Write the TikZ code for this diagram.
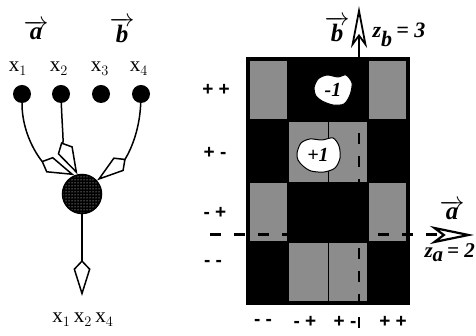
\documentclass[tikz,border=0pt]{standalone}
\usepackage{fontspec}
\setmainfont{Liberation Serif}
\newfontfamily\signfont{Liberation Sans}
\usetikzlibrary{arrows.meta,patterns}
\newcommand{\bi}[1]{\textbf{\textit{#1}}}

\begin{document}
\begin{tikzpicture}[x=1pt, y=1pt,
        site/.style={circle, fill=black, minimum size=18pt, inner sep=0pt},
        lbl/.style={font=\fontsize{21}{23}\selectfont},
        vec/.style={font=\fontsize{25}{27}\selectfont},
        sign/.style={font=\fontsize{19}{21}\signfont\bfseries},
        big/.style={font=\fontsize{20}{22}\selectfont},
        kite/.style={line width=1.5pt, -{Kite[length=36pt, width=17pt, inset=9pt, fill=white]}},
        cell/.style={fill=black!45},
        blob/.style={draw, line width=1pt, fill=white}]

        \useasboundingbox (0,0) rectangle (476,336);

        \node[vec] (va) at (36,306) {$\overrightarrow{\bi{a}}$};
        \node[vec] (vb) at (122,306) {$\overrightarrow{\bi{b}}$};

        \node[lbl, anchor=base] (l1) at (18,264) {$\mathrm{x}_1$};
        \node[lbl, anchor=base] (l2) at (59,264) {$\mathrm{x}_2$};
        \node[lbl, anchor=base] (l3) at (100,264) {$\mathrm{x}_3$};
        \node[lbl, anchor=base] (l4) at (139,264) {$\mathrm{x}_4$};

        \node[site] (x1) at (22,242) {};
        \node[site] (x2) at (61,242) {};
        \node[site] (x3) at (101,242) {};
        \node[site] (x4) at (141,242) {};

        \node[circle, draw, line width=1.5pt, minimum size=39pt, inner sep=0pt,
            preaction={fill=black}, pattern=dots, pattern color=white] (c) at (82,142) {};
        \coordinate (out) at (82,40);

        \draw[kite] (x1) to[out=-90, in=157] (c.112);
        \draw[kite] (x2) to[out=-88, in=117] (c.103);
        \draw[kite] (x4) to[out=-92, in=37] (c.42);
        \draw[kite] (c) -- (out);

        \node[lbl, anchor=base] (prod) at (83,13) {$\mathrm{x}_1\,\mathrm{x}_2\,\mathrm{x}_4$};

        \fill[black] (246,31) rectangle (410,279);
        \fill[cell] (250,217) rectangle (287,275);
        \fill[cell] (369,217) rectangle (406,275);
        \fill[cell] (289,154) rectangle (367,214);
        \fill[cell] (250,95) rectangle (287,153);
        \fill[cell] (369,95) rectangle (406,153);
        \fill[cell] (289,35) rectangle (367,93);
        \draw[line width=1pt] (328,31) -- (328,279);

        \coordinate (bBot) at (359,8);
        \coordinate (bTop) at (359,279);
        \coordinate (bTip) at (359,330);
        \coordinate (aBeg) at (210,101);
        \coordinate (aTip) at (474,101);

        \draw[line width=2.5pt, dash pattern=on 11pt off 12pt] (bBot) -- (bTop);
        \draw[line width=1.8pt, -{Stealth[length=42pt, width=16pt, inset=11pt, fill=white, line width=1.8pt]}] (bTop) -- (bTip);
        \draw[line width=3pt, dash pattern=on 11pt off 13pt,
            -{Stealth[length=44pt, width=18pt, inset=12pt, fill=white, line width=2.2pt]}] (aBeg) -- (aTip);

        \draw[blob] plot[smooth cycle] coordinates {(314,248) (318,257) (327,261) (338,259) (346,261) (352,253) (350,241) (344,232) (333,231) (322,235) (316,240)};
        \draw[blob] plot[smooth cycle] coordinates {(297,183) (301,193) (310,197) (322,196) (333,198) (339,190) (340,178) (335,168) (324,164) (311,165) (303,170) (298,176)};
        \node[big] (m1) at (333,246) {\bi{-1}};
        \node[big] (p1) at (318,181) {\bi{+1}};

        \node[sign] (r1) at (216,246) {+ +};
        \node[sign] (r2) at (215,183) {+ -};
        \node[sign] (r3) at (215,123) {- +};
        \node[sign] (r4) at (213,73) {- -};

        \node[sign] (c1) at (263,14) {- -};
        \node[sign] (c2) at (305,14) {- +};
        \node[sign] (c3) at (345,14) {+ -};
        \node[sign] (c4) at (393,14) {+ +};

        \node[vec] (ab) at (337,307) {$\overrightarrow{\bi{b}}$};
        \node[big, font=\fontsize{22}{24}\selectfont, anchor=base west] (zb) at (369,298) {\bi{z}$_{\bi{b}}$\bi{\,= 3}};
        \node[vec] (aa) at (452,126) {$\overrightarrow{\bi{a}}$};
        \node[big, font=\fontsize{21}{23}\selectfont, anchor=base west] (za) at (421,78) {\bi{z}$_{\bi{a}}$\bi{\,= 2}};
\end{tikzpicture}
\end{document}
